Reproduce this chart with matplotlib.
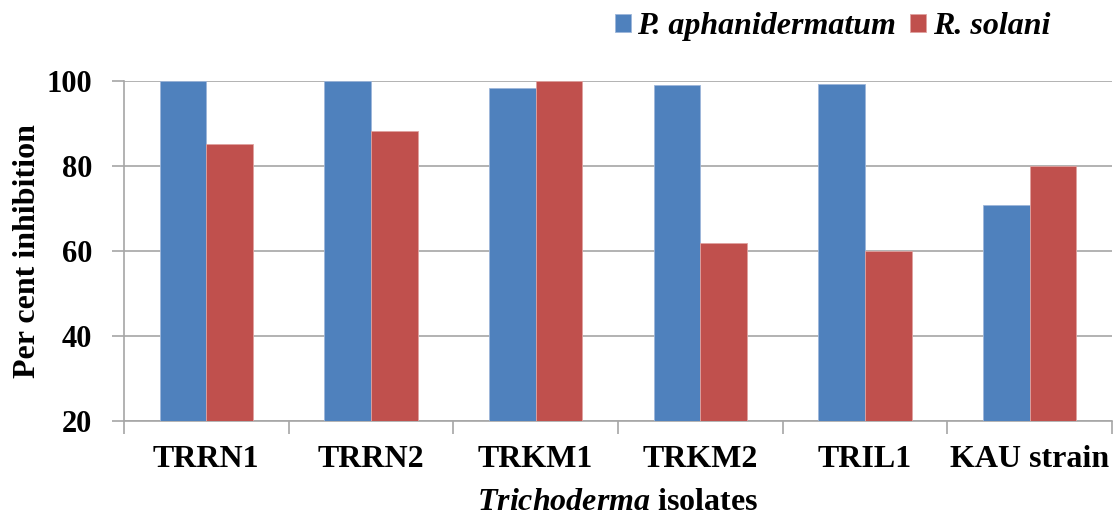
import numpy as np
import matplotlib.pyplot as plt

plt.rcParams['font.family'] = 'Liberation Serif'
plt.rcParams['font.weight'] = 'bold'
plt.rcParams['mathtext.fontset'] = 'custom'
plt.rcParams['mathtext.it'] = 'Liberation Serif:bold:italic'
plt.rcParams['mathtext.rm'] = 'Liberation Serif:bold'

isolates = ['TRRN1', 'TRRN2', 'TRKM1', 'TRKM2', 'TRIL1', 'KAU strain']
p_aphanidermatum = [100, 100, 98.3, 99.0, 99.3, 70.8]
r_solani = [85.1, 88.2, 100, 62.0, 60.1, 80.0]

blue = '#4F81BD'
red = '#C0504D'
grid_col = '#A6A6A6'

fig = plt.figure(figsize=(11.15, 5.19), dpi=100)
ax = fig.add_axes([0.1112, 0.1888, 0.886, 0.655])

x = np.arange(len(isolates))
w = 0.283
ax.bar(x - w / 2, p_aphanidermatum, w, color=blue, edgecolor='#9DB6DA', linewidth=0.6,
       label='P. aphanidermatum', zorder=3)
ax.bar(x + w / 2, r_solani, w, color=red, edgecolor='#E0A2A0', linewidth=0.6,
       label='R. solani', zorder=3)

ax.set_xlim(-0.5, len(isolates) - 0.5)
ax.set_ylim(20, 100)
ax.set_yticks([20, 40, 60, 80, 100])
ax.yaxis.grid(True, color=grid_col, linewidth=1.2, zorder=0)

# ticks between the groups, names in the middle
ax.set_xticks(np.arange(-0.5, len(isolates), 1.0))
ax.set_xticklabels([])
ax.set_xticks(x, minor=True)
ax.set_xticklabels(isolates, minor=True, fontsize=23, fontweight='bold')
ax.tick_params(axis='x', which='minor', length=0, pad=17)
ax.tick_params(axis='x', which='major', length=9, color=grid_col, width=1.2)
ax.tick_params(axis='y', length=9, color=grid_col, width=1.2, labelsize=22, pad=14)

for s in ['top', 'right']:
    ax.spines[s].set_visible(False)
for s in ['left', 'bottom']:
    ax.spines[s].set_color(grid_col)
    ax.spines[s].set_linewidth(1.2)

ax.set_ylabel('Per cent inhibition', fontsize=23, fontweight='bold', labelpad=3)
ax.set_xlabel(r'$Trichoderma$ isolates', fontsize=23, fontweight='bold', labelpad=10.5)

fig.legend(loc='center right', bbox_to_anchor=(0.9417, 0.948), ncol=2, frameon=False,
           prop={'family': 'Liberation Serif', 'weight': 'bold', 'style': 'italic', 'size': 23},
           handlelength=0.5, handleheight=0.5, handletextpad=0.2, columnspacing=0.45,
           borderpad=0, borderaxespad=0)

fig.savefig('out.png', dpi=100)
